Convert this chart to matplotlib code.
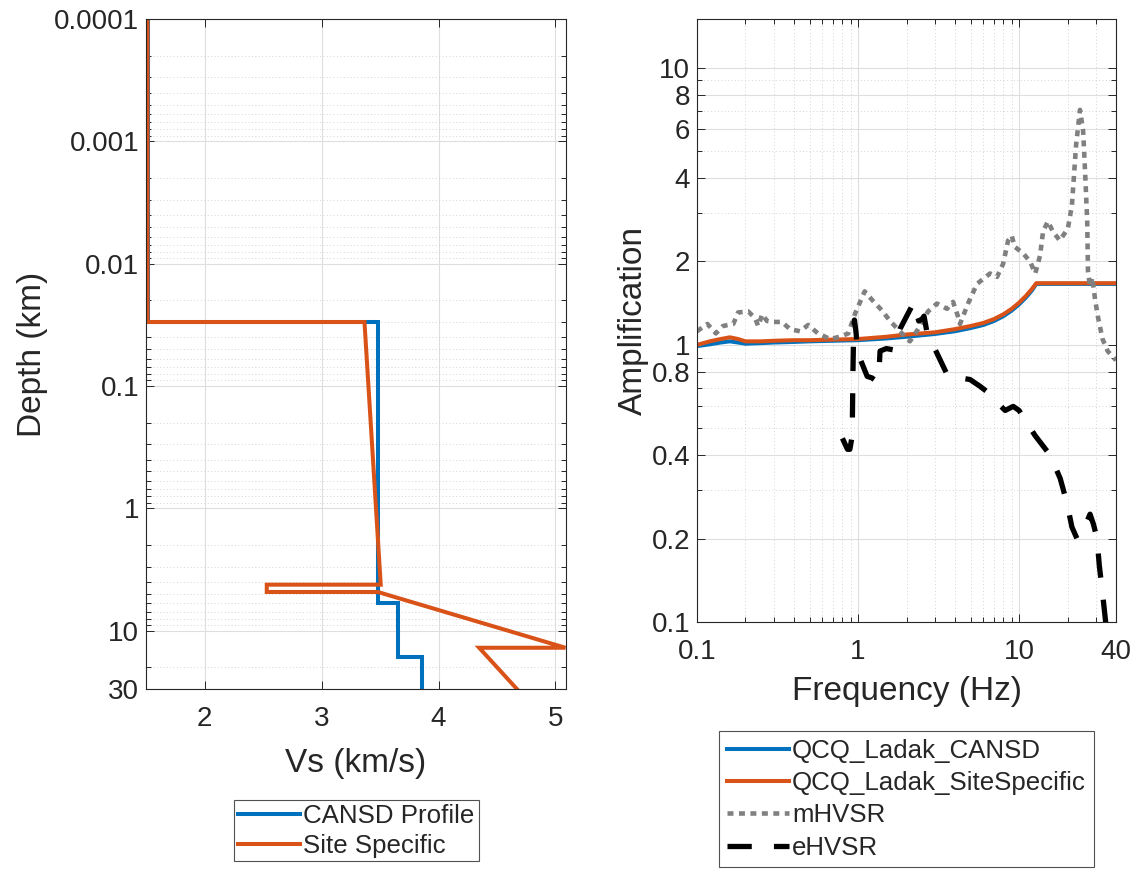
import matplotlib
matplotlib.use("Agg")
import matplotlib.pyplot as plt
from matplotlib.ticker import FixedLocator, LogLocator, NullFormatter, FixedFormatter

# ---- velocity profiles (Vs in km/s vs depth in km) ----
depth_cansd = [0.0001, 0.03, 0.03, 6.0, 6.0, 16.5, 16.5, 30.0]
vs_cansd = [1.51, 1.51, 3.478, 3.478, 3.651, 3.651, 3.857, 3.857]

depth_site = [0.0001, 0.03, 0.03, 4.21, 4.21, 4.83, 4.83, 13.8, 13.8, 30.0]
vs_site = [1.51, 1.51, 3.366, 3.505, 2.53, 2.53, 3.48, 5.085, 4.347, 4.67]

depth_ticks = [0.0001, 0.001, 0.01, 0.1, 1, 10, 30]
depth_ticklabels = ["0.0001", "0.001", "0.01", "0.1", "1", "10", "30"]
vs_ticks = [2, 3, 4, 5]

# ---- amplification functions ----
f_model = [0.1, 0.12, 0.14, 0.16, 0.18, 0.2, 0.25, 0.3, 0.4, 0.5, 0.7, 1.0, 1.5,
           2.0, 3.0, 4.0, 5.0, 6.0, 7.0, 8.0, 9.0, 10.0, 11.0, 12.0, 12.8,
           20.0, 30.0, 40.0]
amp_cansd = [0.99, 1.005, 1.02, 1.03, 1.02, 1.01, 1.015, 1.02, 1.025, 1.03, 1.035,
             1.04, 1.055, 1.07, 1.095, 1.12, 1.15, 1.18, 1.22, 1.27, 1.33, 1.40,
             1.48, 1.57, 1.66, 1.66, 1.66, 1.66]
amp_site = [1.00, 1.03, 1.05, 1.065, 1.05, 1.03, 1.03, 1.035, 1.04, 1.04, 1.045,
            1.05, 1.07, 1.09, 1.11, 1.14, 1.17, 1.20, 1.24, 1.29, 1.35, 1.42,
            1.50, 1.59, 1.67, 1.67, 1.67, 1.67]

f_mhvsr = [0.100, 0.116, 0.131, 0.145, 0.168, 0.180, 0.208, 0.229, 0.240, 0.254,
           0.272, 0.296, 0.337, 0.378, 0.436, 0.490, 0.564, 0.670, 0.770, 0.870,
           0.960, 1.10, 1.24, 1.41, 1.58, 1.82, 2.10, 2.36, 2.72, 3.09, 3.57,
           3.89, 4.17, 4.30, 4.82, 5.48, 6.6, 7.3, 7.96, 8.55, 9.0, 9.4, 10.6,
           11.7, 12.6, 13.5, 14.1, 15.1, 16.2, 17.9, 20.1, 21.3, 22.6, 23.9,
           25.0, 25.7, 26.5, 26.8, 27.6, 28.5, 29.7, 31.0, 33.0, 35.5, 40.0]
amp_mhvsr = [1.12, 1.19, 1.10, 1.17, 1.19, 1.31, 1.32, 1.25, 1.17, 1.29,
             1.22, 1.21, 1.21, 1.14, 1.12, 1.18, 1.10, 1.05, 1.07, 1.10,
             1.30, 1.56, 1.44, 1.33, 1.22, 1.12, 1.03, 1.14, 1.32, 1.41, 1.35,
             1.43, 1.27, 1.19, 1.41, 1.66, 1.81, 1.76, 1.96, 2.38, 2.48, 2.26, 2.14,
             2.00, 1.81, 2.10, 2.57, 2.79, 2.57, 2.38, 2.63, 3.19, 5.26, 7.05,
             5.92, 4.23, 2.79, 1.84, 1.62, 1.75, 1.45, 1.25, 1.05, 0.95, 0.88]

f_ehvsr = [0.80, 0.86, 0.89, 0.92, 0.93, 0.94, 0.95, 0.97, 1.00, 1.14, 1.22, 1.30,
           1.35, 1.37, 1.50, 1.65, 1.82, 2.16, 2.25, 2.38, 2.50, 2.57, 2.68, 3.10,
           3.62, 4.3, 4.96, 5.7, 6.5, 7.5, 8.2, 9.2, 10.0, 10.6, 12.6, 15.6, 18.0,
           19.8, 21.3, 22.9, 24.5, 25.5, 27.6, 29.0, 30.5, 31.5, 33.0, 34.5, 36.0]
amp_ehvsr = [0.46, 0.42, 0.42, 0.47, 0.80, 1.15, 1.23, 1.12, 0.93, 0.77, 0.76, 0.74,
             0.80, 0.95, 0.97, 0.96, 1.14, 1.38, 1.42, 1.22, 1.24, 1.27, 1.11, 0.93,
             0.77, 0.76, 0.75, 0.71, 0.67, 0.61, 0.58, 0.60, 0.58, 0.55, 0.47, 0.40, 0.33,
             0.27, 0.22, 0.20, 0.21, 0.22, 0.245, 0.225, 0.20, 0.16, 0.127, 0.10, 0.085]

amp_ticks = [0.1, 0.2, 0.4, 0.8, 1, 2, 4, 6, 8, 10]
amp_ticklabels = ["0.1", "0.2", "0.4", "0.8", "1", "2", "4", "6", "8", "10"]
freq_ticks = [0.1, 1, 10, 40]
freq_ticklabels = ["0.1", "1", "10", "40"]

BLUE = "#0072BD"
ORANGE = "#D95319"
TXT = "#262626"

plt.rcParams["font.family"] = ["Liberation Sans", "DejaVu Sans"]
plt.rcParams["text.color"] = TXT
plt.rcParams["axes.labelcolor"] = TXT
plt.rcParams["xtick.color"] = TXT
plt.rcParams["ytick.color"] = TXT

fig = plt.figure(figsize=(11.43, 8.69), dpi=100)
W, H = 1143, 869


def frame(x0, x1, y0, y1):
    return [x0 / W, 1 - y1 / H, (x1 - x0) / W, (y1 - y0) / H]


def style_axes(ax):
    for s in ax.spines.values():
        s.set_color(TXT)
        s.set_linewidth(0.8)
    ax.tick_params(which="both", direction="in", top=True, right=True,
                   labelsize=20, width=0.7)
    ax.tick_params(which="major", length=6)
    ax.tick_params(which="minor", length=3.5)
    ax.tick_params(axis="x", which="major", pad=12)
    ax.tick_params(axis="y", which="major", pad=5)


LEG_KW = dict(loc="upper center", fontsize=18.6, frameon=True, fancybox=False,
              edgecolor=TXT, handlelength=2.4, handletextpad=0.12,
              borderaxespad=0)

# ---- left: Vs profile ----
ax1 = fig.add_axes(frame(146, 566, 19, 689))
ax1.plot(vs_cansd, depth_cansd, color=BLUE, lw=2.9, solid_joinstyle="miter",
         label="CANSD Profile")
ax1.plot(vs_site, depth_site, color=ORANGE, lw=2.9, solid_joinstyle="miter",
         label="Site Specific")
ax1.set_yscale("log")
ax1.set_ylim(30, 0.0001)
ax1.set_xlim(1.497, 5.09)
ax1.yaxis.set_major_locator(FixedLocator(depth_ticks))
ax1.yaxis.set_major_formatter(FixedFormatter(depth_ticklabels))
ax1.yaxis.set_minor_locator(LogLocator(base=10, subs=range(2, 10), numticks=20))
ax1.yaxis.set_minor_formatter(NullFormatter())
ax1.xaxis.set_major_locator(FixedLocator(vs_ticks))
ax1.grid(which="major", color="#dedede", lw=0.8, ls="-")
ax1.grid(which="minor", axis="y", color="#d4d4d4", lw=0.7, ls=(0, (1, 2.5)))
ax1.set_axisbelow(True)
style_axes(ax1)
ax1.set_xlabel("Vs (km/s)", fontsize=24, labelpad=12)
ax1.set_ylabel("Depth (km)", fontsize=24, labelpad=4)

leg1 = fig.legend(handles=ax1.get_lines(),
                  bbox_to_anchor=(356.5 / W, 1 - 800 / H),
                  labelspacing=0.22, borderpad=0.15, **LEG_KW)
leg1.get_frame().set_linewidth(0.8)

# ---- right: amplification ----
ax2 = fig.add_axes(frame(697, 1116, 19, 622))
ax2.plot(f_model, amp_cansd, color=BLUE, lw=2.9, label="QCQ_Ladak_CANSD")
ax2.plot(f_model, amp_site, color=ORANGE, lw=2.9, label="QCQ_Ladak_SiteSpecific")
ax2.plot(f_mhvsr, amp_mhvsr, color="#808080", lw=3.3, ls=(0, (1.3, 1.2)),
         dash_capstyle="butt", label="mHVSR")
ax2.plot(f_ehvsr, amp_ehvsr, color="black", lw=3.8, ls=(0, (4.6, 4.2)),
         dash_capstyle="butt", label="eHVSR")
ax2.set_xscale("log")
ax2.set_yscale("log")
ax2.set_xlim(0.1, 40)
ax2.set_ylim(0.1, 15)
ax2.xaxis.set_major_locator(FixedLocator(freq_ticks))
ax2.xaxis.set_major_formatter(FixedFormatter(freq_ticklabels))
ax2.xaxis.set_minor_locator(LogLocator(base=10, subs=range(2, 10), numticks=20))
ax2.xaxis.set_minor_formatter(NullFormatter())
ax2.yaxis.set_major_locator(FixedLocator(amp_ticks))
ax2.yaxis.set_major_formatter(FixedFormatter(amp_ticklabels))
ax2.yaxis.set_minor_locator(LogLocator(base=10, subs=range(2, 10), numticks=20))
ax2.yaxis.set_minor_formatter(NullFormatter())
ax2.grid(which="major", color="#dedede", lw=0.8, ls="-")
ax2.grid(which="minor", color="#d4d4d4", lw=0.7, ls=(0, (1, 2.5)))
ax2.set_axisbelow(True)
style_axes(ax2)
ax2.set_xlabel("Frequency (Hz)", fontsize=24, labelpad=8)
ax2.set_ylabel("Amplification", fontsize=24, labelpad=2)

leg2 = fig.legend(handles=ax2.get_lines(),
                  bbox_to_anchor=(906.5 / W, 1 - 731 / H),
                  labelspacing=0.32, borderpad=0.3, **LEG_KW)
leg2.get_frame().set_linewidth(0.8)

fig.savefig("out.png", dpi=100, facecolor="white")
